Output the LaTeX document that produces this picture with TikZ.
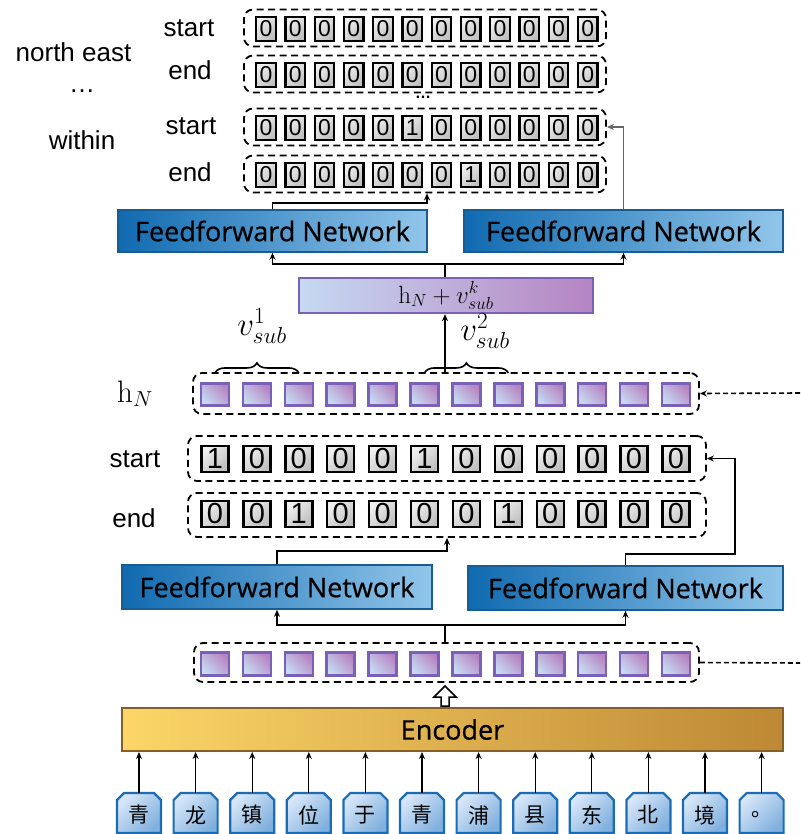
\RequirePackage{fix-cm}
\documentclass[tikz,border=0pt]{standalone}
\usepackage[no-math]{fontspec}
\setmainfont{Liberation Sans}
\newfontfamily\ffnfont[FakeBold=0.6]{Open Sans}
\newfontfamily\cjkfont{Noto Sans CJK SC}
\usetikzlibrary{decorations.pathreplacing,arrows.meta,calc}
\definecolor{ffnD}{RGB}{16,106,176}
\definecolor{ffnL}{RGB}{146,198,234}
\definecolor{ffnB}{RGB}{24,92,148}
\definecolor{encL}{RGB}{252,214,104}
\definecolor{encR}{RGB}{190,136,52}
\definecolor{encB}{RGB}{132,96,40}
\definecolor{hvL}{RGB}{198,218,242}
\definecolor{hvR}{RGB}{182,132,194}
\definecolor{hvB}{RGB}{122,96,182}
\definecolor{tokL}{RGB}{214,230,248}
\definecolor{tokR}{RGB}{128,176,222}
\definecolor{tokB}{RGB}{28,108,180}
\tikzset{
  rowbox/.style={draw, line width=1.8pt, dash pattern=on 7pt off 4.5pt, rounded corners=9pt, inner sep=0pt},
  gcell/.style={draw=black, line width=2.4pt, left color=gray!12, right color=gray!50, shading angle=45, inner sep=0pt, text=black},
  tcell/.style={gcell, minimum width=19.5pt, minimum height=23.5pt, font=\fontsize{23}{23}\selectfont},
  mcell/.style={gcell, minimum width=27pt, minimum height=25.5pt, font=\fontsize{29}{29}\selectfont},
  pcell/.style={draw=hvB, line width=2.6pt, left color=hvL, right color=hvR, shading angle=135, minimum width=28pt, minimum height=22.5pt, inner sep=0pt},
  ffn/.style={draw=ffnB, line width=1.6pt, left color=ffnD, right color=ffnL, inner sep=0pt, font=\ffnfont\fontsize{27}{27}\selectfont},
  lab/.style={inner sep=0pt, font=\fontsize{26}{28}\selectfont},
  conn/.style={line width=1.5pt, -{Stealth[length=7pt,width=6pt]}},
  plain/.style={line width=1.5pt},
  dashconn/.style={line width=1.6pt, dash pattern=on 5pt off 3pt},
  tokshape/.style={draw=tokB, line width=2.2pt, left color=tokL, right color=tokR, shading angle=45},
  toktext/.style={inner sep=0pt, font=\cjkfont\fontsize{21}{21}\selectfont}
}
\begin{document}
\begin{tikzpicture}[x=1pt,y=-1pt]
\useasboundingbox (0,0) rectangle (800,834);
\fill[white] (0,0) rectangle (800,834);

% ---------- top output rows ----------
\node[rowbox, minimum width=362pt, minimum height=37pt] (T1) at (425,28) {};
\node[rowbox, minimum width=362pt, minimum height=37pt] (T2) at (425,74) {};
\node[rowbox, minimum width=362pt, minimum height=37pt] (T3) at (425,127) {};
\node[rowbox, minimum width=362pt, minimum height=37pt] (T4) at (425,174) {};
\foreach \v [count=\k] in {0,0,0,0,0,0,0,0,0,0,0,0}
  \node[tcell] (ta\k) at ({266+29.25*(\k-1)},29) {\v};
\foreach \v [count=\k] in {0,0,0,0,0,0,0,0,0,0,0,0}
  \node[tcell] (tb\k) at ({266+29.25*(\k-1)},75) {\v};
\foreach \v [count=\k] in {0,0,0,0,0,1,0,0,0,0,0,0}
  \node[tcell] (tc\k) at ({266+29.25*(\k-1)},128) {\v};
\foreach \v [count=\k] in {0,0,0,0,0,0,0,1,0,0,0,0}
  \node[tcell] (td\k) at ({266+29.25*(\k-1)},175) {\v};
\node[font=\bfseries\fontsize{16}{16}\selectfont, inner sep=0pt] (mdots) at (423,97) {…};

% labels top
\node[lab, anchor=base] (lne) at (73.5,62) {north east};
\node[lab] (ldots) at (82,91) {…};
\node[lab, anchor=base] (lwi) at (82,150) {within};
\node[lab, anchor=base] (ls1) at (189,37) {start};
\node[lab, anchor=base] (le1) at (190,80) {end};
\node[lab, anchor=base] (ls2) at (191,135) {start};
\node[lab, anchor=base] (le2) at (190,182) {end};

% ---------- top FFNs ----------
\node[ffn, minimum width=309pt, minimum height=42pt] (fTL) at (272.5,231) {Feedforward Network};
\node[ffn, minimum width=319pt, minimum height=42pt] (fTR) at (623.5,231) {Feedforward Network};

% ---------- h_N + v box ----------
\node[draw=hvB, line width=2.2pt, left color=hvL, right color=hvR, minimum width=294pt, minimum height=35pt, inner sep=0pt, font=\fontsize{25}{25}\selectfont] (hv) at (446,295.5) {$\mathrm{h}_N+v_{sub}^{k}$};

% ---------- h_N row ----------
\node[rowbox, minimum width=506pt, minimum height=41pt] (HN) at (446,393.5) {};
\foreach \k in {1,...,12}
  \node[pcell] (h\k) at ({215+41.9*(\k-1)},394.5) {};
\node[inner sep=0pt, anchor=base, font=\fontsize{31}{31}\selectfont] (hNl) at (135,402) {$\mathrm{h}_N$};

% braces
\draw[decorate, decoration={brace, amplitude=10pt}, line width=1.6pt] ($(h1.north)+(0,-9)$) -- ($(h3.north)+(0,-9)$) coordinate[midway] (b1);
\draw[decorate, decoration={brace, amplitude=10pt}, line width=1.6pt] ($(h6.north)+(0,-9)$) -- ($(h8.north)+(0,-9)$) coordinate[midway] (b2);
\node[font=\fontsize{33}{33}\selectfont, inner sep=0pt] (v1) at (262,326) {$v_{sub}^{1}$};
\node[font=\fontsize{33}{33}\selectfont, inner sep=0pt] (v2) at (485,331) {$v_{sub}^{2}$};

% ---------- start / end rows ----------
\node[rowbox, minimum width=518pt, minimum height=45pt] (S) at (447,458.5) {};
\node[rowbox, minimum width=518pt, minimum height=44pt] (E) at (447,515) {};
\foreach \v [count=\k] in {1,0,0,0,0,1,0,0,0,0,0,0}
  \node[mcell] (s\k) at ({215+41.9*(\k-1)},459) {\v};
\foreach \v [count=\k] in {0,0,1,0,0,0,0,1,0,0,0,0}
  \node[mcell] (e\k) at ({215+41.9*(\k-1)},514) {\v};
\node[lab, anchor=base] (ls3) at (135,467) {start};
\node[lab, anchor=base] (le3) at (134,527) {end};

% ---------- lower FFNs ----------
\node[ffn, minimum width=310pt, minimum height=44pt] (fLL) at (277,587) {Feedforward Network};
\node[ffn, minimum width=315pt, minimum height=44pt] (fLR) at (625.5,588) {Feedforward Network};

% ---------- encoder output row ----------
\node[rowbox, minimum width=505pt, minimum height=39pt] (L) at (446.5,662.5) {};
\foreach \k in {1,...,12}
  \node[pcell] (l\k) at ({215+41.9*(\k-1)},664) {};

% ---------- encoder ----------
\node[draw=encB, line width=2pt, left color=encL, right color=encR, minimum width=661pt, minimum height=43pt, inner sep=0pt, font=\ffnfont\fontsize{27}{27}\selectfont] (enc) at (452.5,729.5) {Encoder};

% ---------- tokens ----------
\foreach \c [count=\k] in {青,龙,镇,位,于,青,浦,县,东,北,境,。}{
  \pgfmathsetmacro{\tx}{139+56.6*(\k-1)}
  \draw[tokshape] (\tx-22,833) -- (\tx-22,800) -- (\tx-15,793) -- (\tx+15,793) -- (\tx+22,800) -- (\tx+22,833) -- cycle;
  \node[toktext] (tk\k) at (\tx,815) {\c};
  \coordinate (tt\k) at (\tx,793);
  \draw[line width=1.3pt, -{Stealth[length=7pt,width=6pt]}] (tt\k) -- (tt\k |- enc.south);
}

% ---------- connectors ----------
% encoder -> lower row (hollow arrow)
\coordinate (ha) at (445,706);
\draw[line width=1.5pt, fill=white] ($(ha)+(-4,0)$) -- ($(ha)+(-4,-9)$) -- ($(ha)+(-11,-9)$) -- ($(ha)+(0,-20)$) -- ($(ha)+(11,-9)$) -- ($(ha)+(4,-9)$) -- ($(ha)+(4,0)$) -- cycle;
% lower row -> lower FFNs
\coordinate (sp2) at (445,625);
\draw[plain] (L.north -| sp2) -- (sp2);
\draw[conn] (sp2) -| (fLL.south);
\draw[conn] (sp2) -| (fLR.south);
% lower FFNs -> start / end
\coordinate (c2) at (447,551);
\draw[conn] (fLL.north) |- (c2) -- (E.south);
\coordinate (c3) at (735,554);
\draw[conn] (fLR.north) |- (c3) |- (S.east);
% dashed lines at right
\coordinate (rin) at (800,393);
\draw[dashconn, -{Stealth[length=7pt,width=6pt]}] (rin) -- (HN.east);
\coordinate (rout) at (800,663);
\draw[dashconn] (L.east) -- (rout);
% h_N -> h_N+v
\draw[conn] (HN.north -| 445,0) -- (hv.south -| 445,0);
% h_N+v -> top FFNs
\coordinate (sp1) at (445,264);
\draw[plain] (hv.north -| sp1) -- (sp1);
\draw[conn] (sp1) -| (fTL.south);
\draw[conn] (sp1) -| (fTR.south);
% top FFNs -> output rows
\coordinate (c1) at (427,203);
\draw[conn] (fTL.north) |- (c1) -- (c1 |- T4.south);
\draw[conn, draw=gray!80!black] (fTR.north) |- (T3.east);
\end{tikzpicture}
\end{document}
